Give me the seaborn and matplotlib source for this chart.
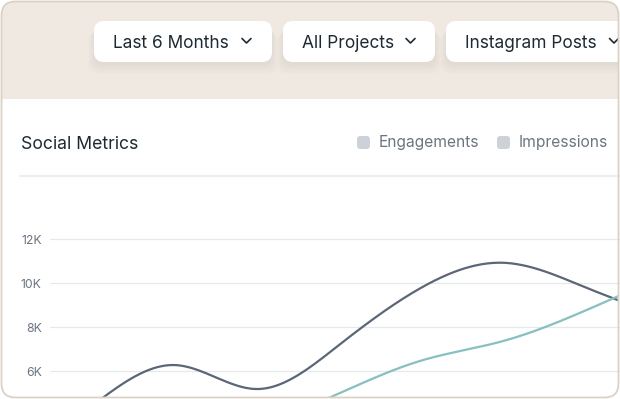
import numpy as np
import pandas as pd
import matplotlib
matplotlib.use("Agg")
import matplotlib.pyplot as plt
import seaborn as sns
from matplotlib.patches import FancyBboxPatch, Rectangle

# datos del grafico
meses = ["Jan", "Feb", "Mar", "Apr", "May", "Jun", "Jul", "Aug"]
engagements = [4450, 6270, 5180, 7180, 9780, 10920, 9810, 8400]
impressions = [2900, 3200, 3600, 4980, 6470, 7360, 8740, 10400]
series = ["Engagements", "Impressions"]
colores = ["#5b6776", "#88bfbf"]
filtros = ["Last 6 Months", "All Projects", "Instagram Posts"]
yticks = [6000, 8000, 10000, 12000]
titulo = "Social Metrics"

sns.set_theme(style="white")
plt.rcParams["font.family"] = ["Inter", "DejaVu Sans"]

W, H = 620, 399
fig = plt.figure(figsize=(W / 100, H / 100), dpi=100)
fig.patch.set_facecolor("white")

# capa de fondo en pixeles
bg = fig.add_axes([0, 0, 1, 1], zorder=0)
bg.set_xlim(0, W)
bg.set_ylim(H, 0)
bg.axis("off")

card = FancyBboxPatch((1.5, 1.5), W - 3, H - 3, boxstyle="round,pad=0,rounding_size=14",
                      fc="white", ec="none")
bg.add_patch(card)
banda = Rectangle((0, 0), W, 99, fc="#f0e9e2", ec="none")
bg.add_patch(banda)
banda.set_clip_path(card)

# botones de filtro
botones = [(94, 178, 113), (283, 152, 302), (446, 200, 465)]
chevrones = [246.5, 410.5, 614]
for (x0, w, tx), txt, cx in zip(botones, filtros, chevrones):
    for k in range(7):
        sh = FancyBboxPatch((x0 - k, 21 + 3 + k * 1.5), w + 2 * k, 41, boxstyle="round,pad=0,rounding_size=10",
                            fc="#a89580", ec="none", alpha=0.018)
        bg.add_patch(sh)
        sh.set_clip_path(card)
    b = FancyBboxPatch((x0, 21), w, 41, boxstyle="round,pad=0,rounding_size=10", fc="white", ec="none")
    bg.add_patch(b)
    b.set_clip_path(card)
    bg.text(tx, 48, txt, fontsize=12.45, color="#1e2a32", va="baseline", ha="left")
    ch, = bg.plot([cx - 4.5, cx, cx + 4.5], [38.5, 43, 38.5], color="#1e2a32", lw=1.2,
                  solid_capstyle="round", solid_joinstyle="round")
    ch.set_clip_path(card)

# titulo, leyenda y separador
bg.text(21, 149, titulo, fontsize=12.7, color="#1e2a32", va="baseline", ha="left")
ley_x = [(357, 379), (497, 519)]
for (mx, tx), nombre in zip(ley_x, series):
    bg.add_patch(FancyBboxPatch((mx, 136), 13, 13, boxstyle="round,pad=0,rounding_size=3.5",
                                fc="#cdd2d8", ec="none"))
    bg.text(tx, 147, nombre, fontsize=11.2, color="#6b7580", va="baseline", ha="left")
bg.plot([20, W], [176, 176], color="#eceef1", lw=1.6)


# spline cubica natural (solo para dibujar la curva entre los puntos)
def suave(y, n=60):
    y = np.asarray(y, float)
    N = len(y)
    A = np.zeros((N, N))
    r = np.zeros(N)
    A[0, 0] = A[-1, -1] = 1
    for i in range(1, N - 1):
        A[i, i - 1:i + 2] = [1, 4, 1]
        r[i] = 6 * (y[i + 1] - 2 * y[i] + y[i - 1])
    M = np.linalg.solve(A, r)
    xs, ys = [], []
    for k in range(N - 1):
        t = np.linspace(0, 1, n, endpoint=False)
        s = 1 - t
        xs.append(k + t)
        ys.append(s * y[k] + t * y[k + 1] + (s**3 - s) * M[k] / 6 + (t**3 - t) * M[k + 1] / 6)
    xs.append([N - 1])
    ys.append([y[-1]])
    return np.concatenate(xs), np.concatenate(ys)


partes = []
for nombre, vals in zip(series, [engagements, impressions]):
    xs, ys = suave(vals)
    partes.append(pd.DataFrame({"x": xs, "valor": ys, "serie": nombre}))
df = pd.concat(partes, ignore_index=True)

# eje del grafico
ax = fig.add_axes([50 / W, 0, 570 / W, 199 / H], zorder=1)
ax.patch.set_alpha(0)
sns.lineplot(data=df, x="x", y="valor", hue="serie", palette=colores, legend=False,
             linewidth=1.6, sort=False, ax=ax)
ax.set_xlim((50 - 93) / 82, (620 - 93) / 82)
ax.set_ylim(12000 - 160 / 22 * 1000, 12000 + 39 / 22 * 1000)
ax.set_yticks(yticks)
ax.set_yticklabels([f"{v // 1000}K" for v in yticks])
ax.set_xticks([])
ax.set_xlabel("")
ax.set_ylabel("")
ax.grid(axis="y", color="#e6e8eb", lw=0.9)
ax.tick_params(axis="y", length=0, pad=6, labelsize=8.8, labelcolor="#6b7580")
for s in ax.spines.values():
    s.set_visible(False)
for ln in ax.lines:
    ln.set_clip_path(card.get_path(), card.get_transform())

# borde exterior encima de todo
top = fig.add_axes([0, 0, 1, 1], zorder=2)
top.set_xlim(0, W)
top.set_ylim(H, 0)
top.axis("off")
top.patch.set_alpha(0)
top.add_patch(FancyBboxPatch((1.5, 1.5), W - 3, H - 3, boxstyle="round,pad=0,rounding_size=14",
                             fc="none", ec="#dbd1c7", lw=1.3))

fig.savefig("out.png", dpi=100)
